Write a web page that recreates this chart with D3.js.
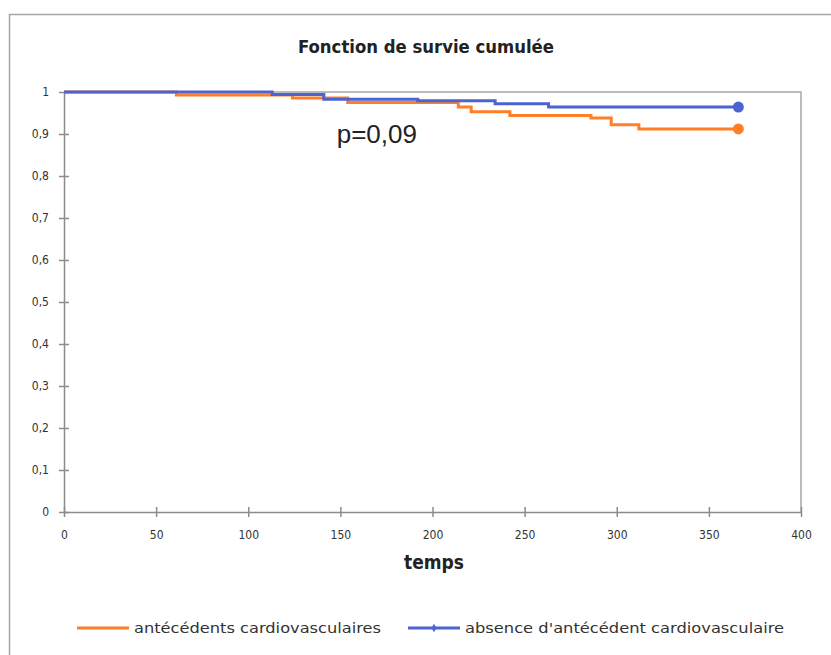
<html>
<head>
    <script src="https://d3js.org/d3.v7.min.js"></script>
</head>
<style>
    body { margin: 0; background: white; }
    .frame { fill: none; stroke: #a6a6a6; stroke-width: 1.5px; }
    .axis path, .axis line { stroke: #8c8c8c; stroke-width: 1.5px; }
    .axis text { font-family: "DejaVu Sans Condensed", "DejaVu Sans"; font-size: 12px; fill: #333; }
    .plotborder { fill: none; stroke: #a6a6a6; stroke-width: 1.5px; }
    .curve { fill: none; stroke-width: 3px; }
</style>
<body>
    <svg id="km" width="831" height="655"></svg>

    <script>
        // survival steps
        const timesAnte = [0, 61, 124, 154, 214, 221, 242, 286, 297, 312, 366];
        const survAnte  = [1, 0.993, 0.986, 0.975, 0.964, 0.953, 0.944, 0.938, 0.922, 0.912, 0.912];
        const timesAbs  = [0, 113, 141, 192, 234, 263, 366];
        const survAbs   = [1, 0.994, 0.983, 0.979, 0.972, 0.964, 0.964];

        const xTicks = [0, 50, 100, 150, 200, 250, 300, 350, 400];
        const yTicks = [0, 0.1, 0.2, 0.3, 0.4, 0.5, 0.6, 0.7, 0.8, 0.9, 1];
        const seriesNames = ["antécédents cardiovasculaires", "absence d'antécédent cardiovasculaire"];
        const seriesColors = ["#ff7f27", "#4d63cf"];

        const svg = d3.select("svg#km");
        const margins = { top: 92, right: 30, bottom: 143, left: 64 };
        const plotW = 801 - margins.left;
        const plotH = 512 - margins.top;

        // outer chart frame (runs off the picture on the right and bottom)
        svg.append("rect").attr("class", "frame")
           .attr("x", 9.5).attr("y", 14.5).attr("width", 900).attr("height", 700);

        svg.append("text")
           .attr("x", 426).attr("y", 53)
           .attr("text-anchor", "middle")
           .attr("textLength", 256).attr("lengthAdjust", "spacingAndGlyphs")
           .style("font-family", "DejaVu Sans Condensed")
           .style("font-weight", "bold")
           .style("font-size", "18px")
           .style("fill", "#222")
           .text("Fonction de survie cumulée");

        const g = svg.append("g")
           .attr("transform", "translate(" + margins.left + "," + margins.top + ")");

        const x = d3.scaleLinear().domain([0, 400]).range([0, plotW]);
        const y = d3.scaleLinear().domain([0, 1]).range([plotH, 0]);

        // plot area border top and right
        g.append("path").attr("class", "plotborder")
         .attr("d", "M0,0H" + plotW + "V" + plotH);

        const fmt = d => d3.format(".1~f")(d).replace(".", ",");

        g.append("g").attr("class", "axis")
         .attr("transform", "translate(0," + plotH + ")")
         .call(d3.axisBottom(x).tickValues(xTicks).tickSize(5).tickSizeOuter(0))
         .call(a => a.selectAll(".tick line").attr("y1", -5))
         .call(a => a.selectAll(".tick text").attr("y", 18));

        g.append("g").attr("class", "axis")
         .call(d3.axisLeft(y).tickValues(yTicks).tickFormat(fmt).tickSize(5).tickSizeOuter(0))
         .call(a => a.selectAll(".tick line").attr("x1", 5))
         .call(a => a.selectAll(".tick text").attr("x", -15));

        const line = d3.line()
            .x(d => x(d[0])).y(d => y(d[1]))
            .curve(d3.curveStepAfter);

        const ante = timesAnte.map((t, i) => [t, survAnte[i]]);
        const abs = timesAbs.map((t, i) => [t, survAbs[i]]);

        [ante, abs].forEach((pts, i) => {
            g.append("path").datum(pts)
             .attr("class", "curve")
             .attr("stroke", seriesColors[i])
             .attr("d", line);
            const last = pts[pts.length - 1];
            g.append("circle")
             .attr("cx", x(last[0])).attr("cy", y(last[1]))
             .attr("r", 5.5).attr("fill", seriesColors[i]);
        });

        g.append("text")
         .attr("x", x(148)).attr("y", 51)
         .style("font-family", "Liberation Sans")
         .style("font-size", "26px")
         .style("fill", "#222")
         .text("p=0,09");

        svg.append("text")
           .attr("x", 434).attr("y", 569)
           .attr("text-anchor", "middle")
           .style("font-family", "DejaVu Sans Condensed")
           .style("font-weight", "bold")
           .style("font-size", "19px")
           .style("fill", "#222")
           .text("temps");

        // legend
        const legendPos = [{ x: 77, w: 247 }, { x: 408, w: 319 }];
        const legend = svg.append("g");
        seriesNames.forEach((name, i) => {
            const p = legendPos[i];
            legend.append("line")
                  .attr("x1", p.x).attr("x2", p.x + 52)
                  .attr("y1", 628).attr("y2", 628)
                  .attr("stroke", seriesColors[i]).attr("stroke-width", 3);
            if (i === 1) {
                legend.append("path")
                      .attr("d", d3.symbol(d3.symbolDiamond, 22)())
                      .attr("transform", "translate(" + (p.x + 26) + ",628)")
                      .attr("fill", seriesColors[i]);
            }
            legend.append("text")
                  .attr("x", p.x + 57).attr("y", 633)
                  .attr("textLength", p.w).attr("lengthAdjust", "spacingAndGlyphs")
                  .style("font-family", "DejaVu Sans Condensed")
                  .style("font-size", "14px")
                  .style("fill", "#333")
                  .text(name);
        });
    </script>
</body>
</html>
